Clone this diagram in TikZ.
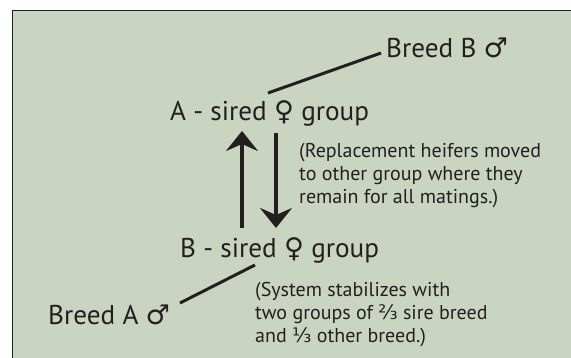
\documentclass[tikz,border=0pt]{standalone}
\usepackage{fontspec}
\setmainfont{PT Sans}
\newfontfamily\symfont{DejaVu Sans}
\usetikzlibrary{arrows.meta}
\definecolor{bg}{RGB}{202,213,193}
\definecolor{ink}{RGB}{35,31,32}
\newcommand{\fem}{{\symfont\char"2640}}
\newcommand{\mal}{{\symfont\char"2642}}
\begin{document}
\begin{tikzpicture}[x=1pt,y=-1pt,
  big/.style={inner sep=0pt,anchor=base west,text=ink,font=\fontsize{27.2}{30}\selectfont},
  note/.style={inner sep=0pt,anchor=base west,text=ink,align=left,font=\fontsize{20}{23.3}\selectfont},
  link/.style={draw=ink,line width=3pt},
  flow/.style={draw=ink,line width=3.5pt,-{Stealth[length=20pt,width=32pt,inset=7pt]}}]
\useasboundingbox (0,0) rectangle (571,358);
\fill[bg] (12,11) rectangle (571,358);
\draw[ink,line width=1pt] (12,358) -- (12,11) -- (571,11);
\node[big] (breedB) at (386,58) {Breed B \mal};
\node[big] (Agrp) at (170,121) {A - sired \fem\ group};
\node[big] (Bgrp) at (180,258) {B - sired \fem\ group};
\node[big] (breedA) at (48,325) {Breed A \mal};
\node[note] (n1) at (299,204) {(Replacement heifers moved\\to other group where they\\remain for all matings.)};
\node[note] (n2) at (255,343) {(System stabilizes with\\two groups of {\symfont ⅔} sire breed\\and {\symfont ⅓} other breed.)};
\coordinate (bBend) at (381,53);
\coordinate (aTop) at (268,93);
\coordinate (aBend) at (180,303);
\coordinate (bBot) at (255,265);
\draw[link] (aTop) -- (bBend);
\draw[link] (aBend) -- (bBot);
\coordinate (upS) at (242,228);
\coordinate (upE) at (242,131);
\coordinate (dnS) at (276,133);
\coordinate (dnE) at (276,228);
\draw[flow] (upS) -- (upE);
\draw[flow] (dnS) -- (dnE);
\end{tikzpicture}
\end{document}
